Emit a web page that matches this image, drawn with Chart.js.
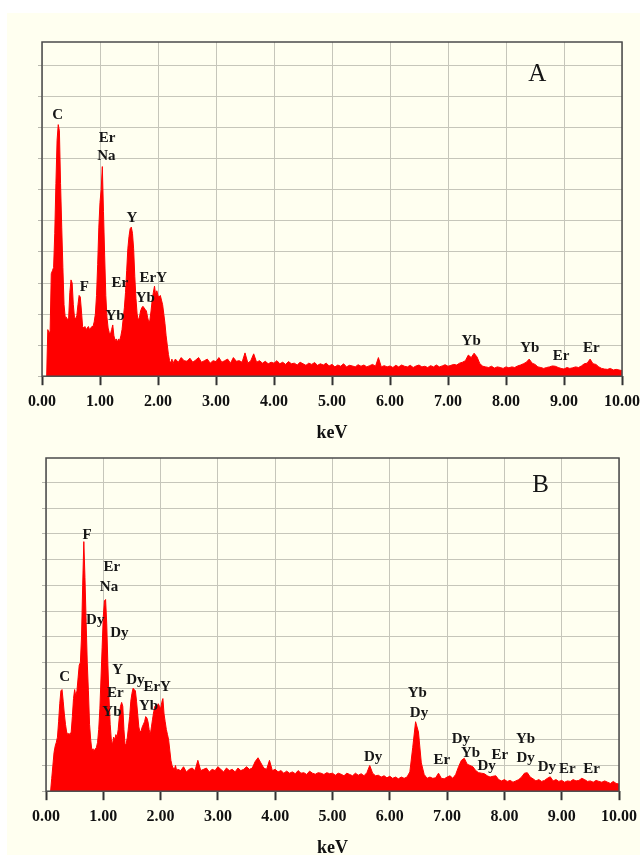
<!DOCTYPE html>
<html>
<head>
<meta charset="utf-8">
<script src="https://cdn.jsdelivr.net/npm/chart.js@4.4.1/dist/chart.umd.min.js"></script>
<style>
  html, body { margin: 0; padding: 0; background: #fff; }
  #page { position: relative; width: 640px; height: 855px; overflow: hidden; background: #fff; }
  #paper { position: absolute; left: 7px; top: 13px; right: 0; bottom: 0; background: #fffff0; }
  canvas { position: absolute; left: 0; }
  #specA { top: 0; }
  #specB { top: 430px; }
</style>
</head>
<body>
<div id="page">
  <div id="paper"></div>
  <canvas id="specA" width="640" height="445"></canvas>
  <canvas id="specB" width="640" height="430"></canvas>
</div>
<script>
// EDS channels: fine channels up to 2.3 keV, coarse ones above
const LOW_START = 0.08, LOW_STEP = 0.02, LOW_COUNT = 111;
const HIGH_START = 2.3, HIGH_STEP = 0.05, HIGH_COUNT = 155;

// spectrum A, counts in grid units
const countsLowA = [
  0, 1.5, 1.4, 1.45, 3.3, 3.4, 3.5, 4.6, 6.2, 7.6,
  8.1, 7.9, 6.2, 4.8, 3.5, 2.3, 1.9, 1.9, 1.8, 1.9,
  2.7, 3.1, 3.0, 2.3, 1.9, 1.85, 1.95, 2.3, 2.6, 2.55,
  2.1, 1.6, 1.55, 1.6, 1.5, 1.55, 1.6, 1.5, 1.55, 1.6,
  1.6, 1.75, 2.0, 2.6, 3.6, 4.8, 5.6, 6.0, 6.75, 5.3,
  3.9, 2.6, 1.9, 1.55, 1.4, 1.35, 1.5, 1.65, 1.3, 1.15,
  1.2, 1.1, 1.2, 1.15, 1.3, 1.5, 1.85, 2.2, 2.7, 3.4,
  4.1, 4.5, 4.75, 4.8, 4.6, 4.1, 3.2, 2.5, 2.0, 1.8,
  1.9, 2.1, 2.2, 2.25, 2.2, 2.15, 2.1, 1.9, 1.75, 1.8,
  2.1, 2.45, 2.7, 2.9, 2.6, 2.75, 2.6, 2.55, 2.6, 2.45,
  2.3, 2.0, 1.7, 1.3, 1.0, 0.7, 0.5, 0.42, 0.55, 0.4, 0.5
];
const countsHighA = [
  0.55, 0.45, 0.6, 0.5, 0.48, 0.58, 0.45, 0.52, 0.6, 0.45,
  0.5, 0.55, 0.42, 0.5, 0.47, 0.6, 0.45, 0.5, 0.55, 0.42,
  0.6, 0.48, 0.5, 0.45, 0.75, 0.42, 0.5, 0.72, 0.45, 0.5,
  0.42, 0.48, 0.4, 0.45, 0.42, 0.5, 0.4, 0.45, 0.38, 0.47,
  0.4, 0.42, 0.36, 0.45, 0.4, 0.35, 0.42, 0.38, 0.44, 0.35,
  0.4, 0.36, 0.42, 0.33, 0.38, 0.3, 0.36, 0.32, 0.4, 0.3,
  0.35, 0.33, 0.3, 0.37, 0.32, 0.36, 0.3, 0.34, 0.38, 0.32,
  0.6, 0.3, 0.34, 0.3, 0.33, 0.28, 0.35, 0.3, 0.36, 0.32,
  0.3, 0.35, 0.28, 0.33, 0.36, 0.3, 0.32, 0.28, 0.34, 0.3,
  0.36, 0.3, 0.33, 0.37, 0.32, 0.35, 0.38, 0.36, 0.42, 0.45,
  0.5, 0.68, 0.6, 0.74, 0.62, 0.4, 0.32, 0.3, 0.28, 0.32,
  0.26, 0.3, 0.28, 0.25, 0.3, 0.27, 0.3, 0.28, 0.33, 0.36,
  0.4, 0.45, 0.55, 0.42, 0.38, 0.3, 0.28, 0.25, 0.28, 0.3,
  0.33, 0.32, 0.28, 0.25, 0.23, 0.28, 0.25, 0.27, 0.3, 0.28,
  0.33, 0.4, 0.42, 0.55, 0.4, 0.38, 0.3, 0.25, 0.23, 0.22,
  0.25, 0.2, 0.22, 0.2, 0.18
];

// spectrum B
const countsLowB = [
  0, 0.5, 1.0, 1.5, 1.75, 1.9, 2.1, 2.7, 3.4, 3.9,
  3.95, 3.5, 3.0, 2.6, 2.3, 2.2, 2.25, 2.2, 2.3, 2.9,
  3.6, 3.95, 3.7, 3.9, 4.4, 4.9, 5.0, 6.0, 8.0, 9.7,
  8.3, 6.6, 5.0, 3.9, 2.6, 2.0, 1.6, 1.65, 1.55, 1.65,
  1.7, 1.9, 2.4, 3.2, 4.4, 5.6, 6.8, 7.4, 7.45, 6.5,
  4.9, 3.6, 2.6, 2.0, 1.8, 2.1, 2.0, 2.2, 2.1, 2.4,
  2.9, 3.3, 3.45, 3.3, 2.4, 1.8, 1.85, 2.1, 2.5, 2.9,
  3.5, 3.8, 4.0, 3.95, 3.9, 3.5, 3.0, 2.5, 2.3, 2.35,
  2.5, 2.6, 2.7, 2.9, 2.85, 2.7, 2.4, 2.2, 2.5, 2.8,
  3.1, 3.3, 3.35, 3.3, 3.4, 3.3, 3.2, 3.45, 3.6, 3.0,
  2.7, 2.4, 2.2, 2.0, 1.6, 1.2, 1.0, 0.9, 0.85, 1.0, 0.8
];
const countsHighB = [
  0.85, 0.8, 0.95, 0.75, 0.85, 0.9, 0.8, 1.2, 0.8, 0.85,
  0.9, 0.75, 0.85, 0.8, 0.95, 0.85, 0.75, 0.9, 0.8, 0.85,
  0.75, 0.9, 0.8, 0.85, 0.95, 0.85, 0.9, 1.15, 1.3, 1.1,
  0.9, 0.85, 1.2, 0.8, 0.85, 0.75, 0.8, 0.7, 0.78, 0.7,
  0.75, 0.68, 0.8, 0.7, 0.72, 0.65, 0.78, 0.7, 0.66, 0.72,
  0.7, 0.65, 0.72, 0.68, 0.7, 0.62, 0.7, 0.66, 0.6, 0.7,
  0.65, 0.6, 0.7, 0.62, 0.68, 0.6, 0.72, 1.0, 0.7, 0.6,
  0.62, 0.55, 0.6, 0.52, 0.58, 0.5, 0.55, 0.48, 0.55, 0.5,
  0.55, 0.75, 1.7, 2.7, 2.3, 1.1, 0.65, 0.5, 0.55, 0.5,
  0.52, 0.7, 0.5, 0.48, 0.55, 0.6, 0.5, 0.65, 0.95, 1.2,
  1.28, 1.05, 1.0, 0.95, 0.8, 0.72, 0.7, 0.68, 0.6, 0.55,
  0.58, 0.6, 0.45, 0.4, 0.45, 0.38, 0.42, 0.35, 0.4, 0.45,
  0.55, 0.7, 0.72, 0.55, 0.48, 0.4, 0.45, 0.38, 0.42, 0.5,
  0.56, 0.4, 0.45, 0.38, 0.42, 0.35, 0.4, 0.38, 0.45, 0.4,
  0.42, 0.5, 0.45, 0.38, 0.4, 0.35, 0.42, 0.38, 0.35, 0.4,
  0.35, 0.3, 0.38, 0.3, 0.28
];

// element labels: name, keV, height (grid units) of the text centre
const peakNamesA = ["C", "Er", "Na", "Y", "F", "Er", "Yb", "ErY", "Yb", "Yb", "Yb", "Er", "Er"];
const peakKevA = [0.27, 1.12, 1.11, 1.55, 0.73, 1.34, 1.26, 1.92, 1.78, 7.40, 8.41, 8.95, 9.47];
const peakLevelA = [8.41, 7.66, 7.07, 5.08, 2.88, 2.99, 1.93, 3.15, 2.52, 1.14, 0.89, 0.64, 0.89];

const peakNamesB = ["F", "Er", "Na", "Dy", "Dy", "C", "Y", "Dy", "Er", "Yb", "ErY", "Yb",
  "Dy", "Yb", "Dy", "Er", "Dy", "Yb", "Dy", "Er", "Yb", "Dy", "Dy", "Er", "Er"];
const peakKevB = [0.715, 1.15, 1.10, 0.86, 1.28, 0.325, 1.25, 1.56, 1.21, 1.15, 1.94, 1.79,
  5.71, 6.48, 6.51, 6.91, 7.24, 7.41, 7.69, 7.92, 8.37, 8.37, 8.74, 9.10, 9.52];
const peakLevelB = [9.96, 8.70, 7.93, 6.65, 6.14, 4.45, 4.71, 4.32, 3.83, 3.09, 4.06, 3.31,
  1.33, 3.83, 3.05, 1.21, 2.01, 1.49, 0.97, 1.40, 2.01, 1.27, 0.95, 0.84, 0.84];

const tickKev = [0, 1, 2, 3, 4, 5, 6, 7, 8, 9, 10];

const SERIF = "'Liberation Serif', 'Times New Roman', serif";
const GRID = "#c6c6ba";
const RED = "#ff0000";

function channels(start, step, n) {
  return Array.from({ length: n }, (_, i) => +(start + i * step).toFixed(3));
}

function spectrum(lowCounts, highCounts) {
  const lowE = channels(LOW_START, LOW_STEP, LOW_COUNT);
  const highE = channels(HIGH_START, HIGH_STEP, HIGH_COUNT);
  return lowE.map((e, i) => ({ x: e, y: lowCounts[i] }))
    .concat(highE.map((e, i) => ({ x: e, y: highCounts[i] })));
}

// frame round the plot area, element names and panel letter
const framePlugin = {
  id: "frame",
  afterDatasetsDraw(chart, args, opts) {
    const { ctx, chartArea: a, scales } = chart;
    ctx.save();
    ctx.strokeStyle = "#4b4b4b";
    ctx.lineWidth = 1.5;
    ctx.strokeRect(a.left, a.top, a.right - a.left, a.bottom - a.top);

    ctx.fillStyle = "#161616";
    ctx.textAlign = "center";
    ctx.textBaseline = "middle";
    ctx.font = "bold 15px " + SERIF;
    opts.names.forEach((name, i) => {
      ctx.fillText(name, scales.x.getPixelForValue(opts.kev[i]), scales.y.getPixelForValue(opts.level[i]));
    });

    ctx.font = "25px " + SERIF;
    ctx.fillText(opts.panel, scales.x.getPixelForValue(opts.panelAt[0]), scales.y.getPixelForValue(opts.panelAt[1]));
    ctx.restore();
  }
};

function drawSpectrum(canvasId, data, yMax, names, kev, level, panel, panelAt, padding) {
  return new Chart(document.getElementById(canvasId), {
    type: "line",
    data: {
      datasets: [{
        data: data,
        borderColor: RED,
        backgroundColor: RED,
        borderWidth: 1,
        pointRadius: 0,
        tension: 0,
        fill: "origin"
      }]
    },
    options: {
      responsive: false,
      animation: false,
      events: [],
      layout: { padding: padding },
      scales: {
        x: {
          type: "linear",
          min: 0,
          max: 10,
          afterBuildTicks: (axis) => { axis.ticks = tickKev.map((v) => ({ value: v })); },
          // let the end labels run past the plot edges
          afterFit: (axis) => { axis.paddingLeft = 0; axis.paddingRight = 0; },
          ticks: {
            autoSkip: false,
            maxRotation: 0,
            padding: 7,
            color: "#111",
            font: { family: SERIF, size: 16, weight: "bold" },
            callback: (v) => Number(v).toFixed(2)
          },
          grid: { color: GRID, lineWidth: 1, tickColor: "#333", tickWidth: 2, tickLength: 9 },
          border: { display: false },
          title: {
            display: true,
            text: "keV",
            color: "#111",
            font: { family: SERIF, size: 18, weight: "bold" },
            padding: { top: 4, bottom: 0 }
          }
        },
        y: {
          min: 0,
          max: yMax,
          ticks: { display: false, stepSize: 1, includeBounds: false },
          grid: { color: GRID, lineWidth: 1, tickColor: "#b8b8ae", tickLength: 4 },
          border: { display: false }
        }
      },
      plugins: {
        legend: { display: false },
        tooltip: { enabled: false },
        frame: { names: names, kev: kev, level: level, panel: panel, panelAt: panelAt }
      }
    },
    plugins: [framePlugin]
  });
}

drawSpectrum("specA", spectrum(countsLowA, countsHighA), 10.76,
  peakNamesA, peakKevA, peakLevelA, "A", [8.54, 9.7],
  { left: 38, right: 18, top: 42, bottom: 1 });

drawSpectrum("specB", spectrum(countsLowB, countsHighB), 12.95,
  peakNamesB, peakKevB, peakLevelB, "B", [8.63, 11.87],
  { left: 42, right: 21, top: 28, bottom: 1 });
</script>
</body>
</html>
